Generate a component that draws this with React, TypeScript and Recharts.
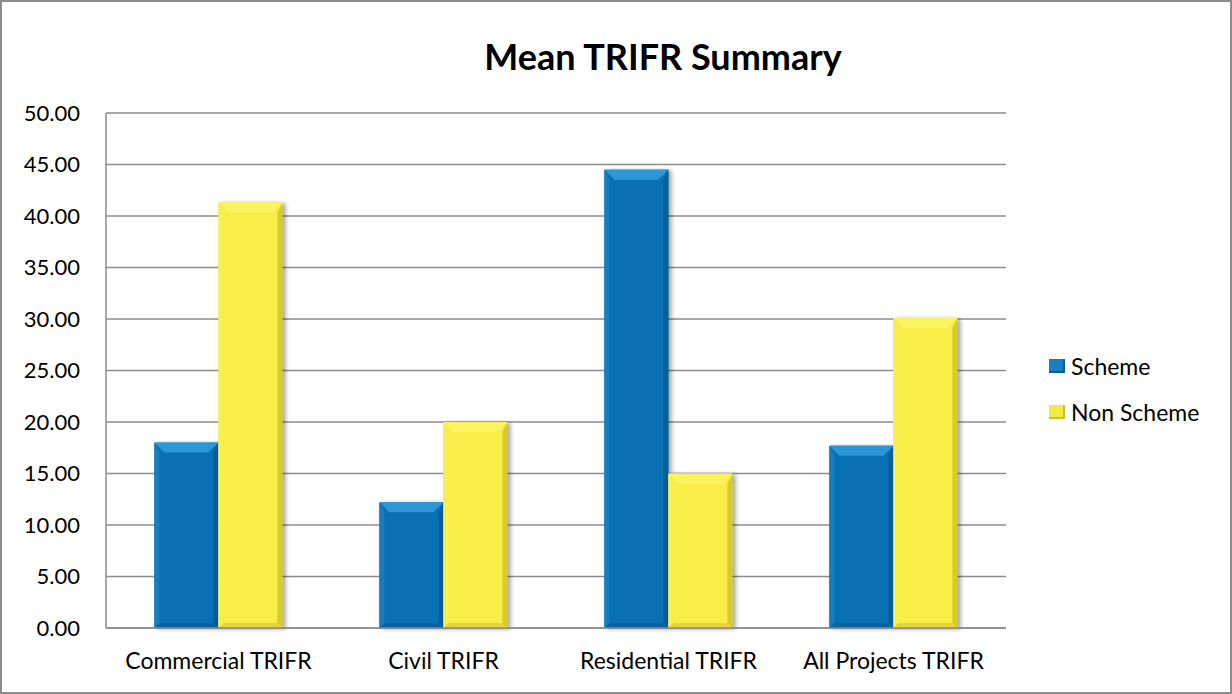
import React from 'react';
import { BarChart, Bar, XAxis, YAxis, CartesianGrid } from 'recharts';

const categories = ['Commercial TRIFR', 'Civil TRIFR', 'Residential TRIFR', 'All Projects TRIFR'];
const schemeValues = [18.0, 12.2, 44.5, 17.7];
const nonSchemeValues = [41.3, 20.0, 15.0, 30.1];
const yTicks = [0, 5, 10, 15, 20, 25, 30, 35, 40, 45, 50];

const chartData = categories.map((name, i) => ({
  name,
  scheme: schemeValues[i],
  nonScheme: nonSchemeValues[i],
}));

const FONT = 'Lato, "Open Sans", sans-serif';

// bevel colours per series
const shades: Record<string, { base: string; top: string; left: string; right: string; bottom: string }> = {
  '#0a70b4': { base: '#0a70b4', top: '#2b97d9', left: '#1180c3', right: '#075d97', bottom: '#0963a2' },
  '#f9ee47': { base: '#f9ee47', top: '#fcf45f', left: '#f8ee50', right: '#d6ca2c', bottom: '#e2d63a' },
};

const BevelBar = (props: any) => {
  const { x, y, width: w, height: h, fill } = props;
  if (!h || h <= 0) return null;
  const c = shades[fill] || shades['#0a70b4'];
  const b = Math.min(10, h / 2);
  const s = Math.min(5, h / 2);
  return (
    <g style={{ filter: 'drop-shadow(3px 1px 2px rgba(0,0,0,0.35))' }}>
      <rect x={x} y={y} width={w} height={h} fill={c.base} />
      <polygon points={`${x},${y} ${x + w},${y} ${x + w - b},${y + b} ${x + b},${y + b}`} fill={c.top} />
      <polygon points={`${x},${y} ${x + s},${y + b} ${x + s},${y + h - s} ${x},${y + h}`} fill={c.left} />
      <polygon points={`${x + w},${y} ${x + w},${y + h} ${x + w - s},${y + h - s} ${x + w - s},${y + b}`} fill={c.right} />
      <polygon points={`${x},${y + h} ${x + w},${y + h} ${x + w - s},${y + h - s} ${x + s},${y + h - s}`} fill={c.bottom} />
    </g>
  );
};

const LegendSwatch = ({ color, dark }: { color: string; dark: string }) => (
  <span
    style={{
      display: 'inline-block',
      width: 16,
      height: 14,
      background: color,
      boxShadow: `inset -2px -2px 0 ${dark}`,
      marginRight: 6,
    }}
  />
);

export default function App() {
  return (
    <div
      style={{
        position: 'relative',
        width: 1232,
        height: 694,
        boxSizing: 'border-box',
        border: '2px solid #8c8c8c',
        background: '#fff',
        fontFamily: FONT,
      }}
    >
      <style>{'body{margin:0}'}</style>
      <div
        style={{
          position: 'absolute',
          left: 45,
          top: 32,
          width: 1232,
          textAlign: 'center',
          fontSize: 36,
          fontWeight: 'bold',
          color: '#000',
        }}
      >
        Mean TRIFR Summary
      </div>
      <div style={{ position: 'absolute', left: -2, top: -2 }}>
        <BarChart
          width={1232}
          height={694}
          data={chartData}
          margin={{ top: 113, right: 226, bottom: 26, left: 0 }}
          barCategoryGap="21.5%"
          barGap={0}
        >
          <CartesianGrid vertical={false} stroke="#8c8c8c" strokeWidth={1.5} />
          <XAxis
            dataKey="name"
            height={40}
            tickLine={false}
            tickSize={0}
            tickMargin={25}
            axisLine={{ stroke: '#8c8c8c', strokeWidth: 1.5 }}
            tick={{ fill: '#000', fontSize: 23, fontFamily: FONT }}
          />
          <YAxis
            width={106}
            domain={[0, 50]}
            ticks={yTicks}
            interval={0}
            tickFormatter={(v: number) => v.toFixed(2)}
            tickLine={false}
            tickSize={0}
            tickMargin={26}
            axisLine={{ stroke: '#8c8c8c', strokeWidth: 1.5 }}
            tick={{ fill: '#000', fontSize: 22, fontFamily: FONT }}
          />
          <Bar dataKey="scheme" fill="#0a70b4" shape={BevelBar} isAnimationActive={false} />
          <Bar dataKey="nonScheme" fill="#f9ee47" shape={BevelBar} isAnimationActive={false} />
        </BarChart>
      </div>
      <div
        style={{
          position: 'absolute',
          left: 1047,
          top: 349,
          fontSize: 23,
          color: '#000',
          lineHeight: '30px',
        }}
      >
        <div style={{ display: 'flex', alignItems: 'center' }}>
          <LegendSwatch color="#1a7fc2" dark="#075d97" />
          Scheme
        </div>
        <div style={{ display: 'flex', alignItems: 'center', marginTop: 16 }}>
          <LegendSwatch color="#f4ea45" dark="#c9bd28" />
          Non Scheme
        </div>
      </div>
    </div>
  );
}
